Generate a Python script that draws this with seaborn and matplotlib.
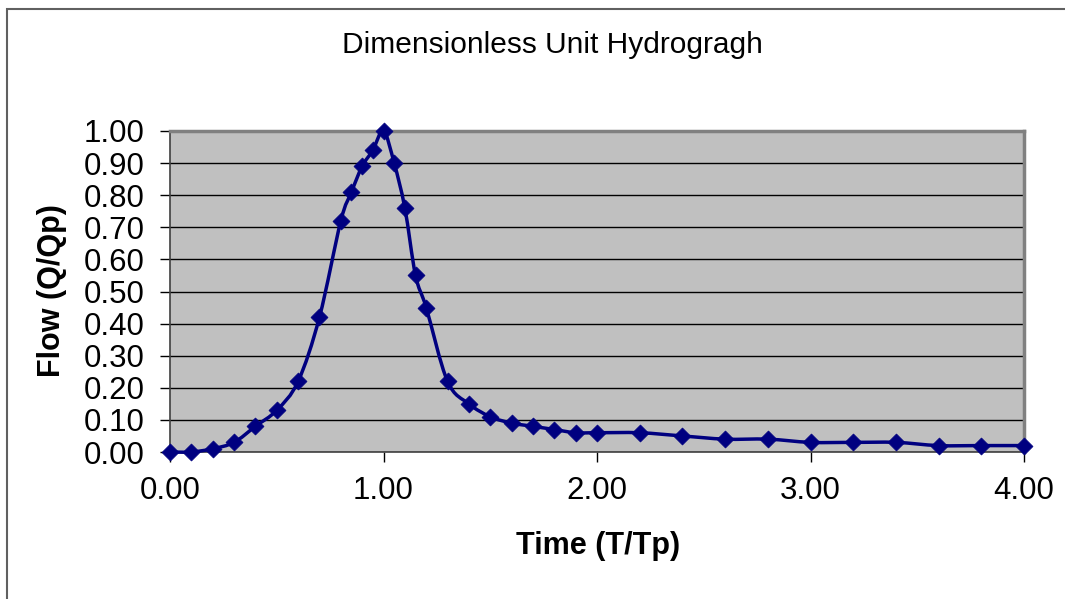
import numpy as np
import pandas as pd
import matplotlib
matplotlib.use("Agg")
import matplotlib.pyplot as plt
from matplotlib.path import Path
from matplotlib.patches import PathPatch, Rectangle
import seaborn as sns

# ---- data ----
time_ratio = [0.00, 0.10, 0.20, 0.30, 0.40, 0.50, 0.60, 0.70, 0.80, 0.85, 0.90, 0.95,
              1.00, 1.05, 1.10, 1.15, 1.20, 1.30, 1.40, 1.50, 1.60, 1.70, 1.80, 1.90,
              2.00, 2.20, 2.40, 2.60, 2.80, 3.00, 3.20, 3.40, 3.60, 3.80, 4.00]
flow_ratio = [0.00, 0.00, 0.01, 0.03, 0.08, 0.13, 0.22, 0.42, 0.72, 0.81, 0.89, 0.94,
              1.00, 0.90, 0.76, 0.55, 0.45, 0.22, 0.15, 0.11, 0.09, 0.08, 0.07, 0.06,
              0.06, 0.06, 0.05, 0.04, 0.04, 0.03, 0.03, 0.03, 0.02, 0.02, 0.02]
x_ticks = [0.0, 1.0, 2.0, 3.0, 4.0]
y_ticks = [0.0, 0.1, 0.2, 0.3, 0.4, 0.5, 0.6, 0.7, 0.8, 0.9, 1.0]
title = "Dimensionless Unit Hydrogragh"
x_label = "Time (T/Tp)"
y_label = "Flow (Q/Qp)"

df = pd.DataFrame({"t": time_ratio, "q": flow_ratio})

sns.set_theme(style="white")
plt.rcParams["font.family"] = ["Liberation Sans", "DejaVu Sans"]
plt.rcParams["text.color"] = "black"
plt.rcParams["axes.labelcolor"] = "black"
plt.rcParams["xtick.color"] = "black"
plt.rcParams["ytick.color"] = "black"

NAVY = "#000080"
fig = plt.figure(figsize=(10.65, 5.99), dpi=100)
ax = fig.add_axes([170 / 1065, 1 - 452 / 599, (1024 - 170) / 1065, (452 - 131) / 599])
ax.set_facecolor("#C0C0C0")

# smoothed line (Excel-like Bezier smoothing through the data points)
xs = np.asarray(df["t"], float)
ys = np.asarray(df["q"], float)
n = len(xs)
verts = [(xs[0], ys[0])]
codes = [Path.MOVETO]
for i in range(n - 1):
    p0 = np.array([xs[max(i - 1, 0)], ys[max(i - 1, 0)]])
    p1 = np.array([xs[i], ys[i]])
    p2 = np.array([xs[i + 1], ys[i + 1]])
    p3 = np.array([xs[min(i + 2, n - 1)], ys[min(i + 2, n - 1)]])
    c1 = p1 + (p2 - p0) / 6.0
    c2 = p2 - (p3 - p1) / 6.0
    verts += [tuple(c1), tuple(c2), tuple(p2)]
    codes += [Path.CURVE4] * 3
ax.add_patch(PathPatch(Path(verts, codes), facecolor="none", edgecolor=NAVY,
                       lw=2.5, zorder=3, clip_on=False))

sns.scatterplot(data=df, x="t", y="q", marker="D", s=75, color=NAVY,
                edgecolor=NAVY, linewidth=0.5, ax=ax, zorder=4, clip_on=False)

ax.set_xlim(0, 4)
ax.set_ylim(0, 1)
ax.set_xticks(x_ticks)
ax.set_yticks(y_ticks)
ax.set_xticklabels([f"{v:.2f}" for v in x_ticks])
ax.set_yticklabels([f"{v:.2f}" for v in y_ticks])
ax.yaxis.grid(True, color="black", lw=1.0)
ax.xaxis.grid(False)
ax.set_axisbelow(True)

ax.tick_params(axis="both", which="major", direction="out", length=7, width=1,
               color="black", labelcolor="black", labelsize=22.5, left=True, bottom=True)
ax.tick_params(axis="x", pad=10)
ax.tick_params(axis="y", pad=11)

for side in ["top", "right"]:
    ax.spines[side].set_color("#808080")
    ax.spines[side].set_linewidth(2.5)
for side in ["left", "bottom"]:
    ax.spines[side].set_color("#404040")
    ax.spines[side].set_linewidth(1.2)

ax.set_xlabel(x_label, fontsize=22, fontweight="bold", color="black")
ax.set_ylabel(y_label, fontsize=22, fontweight="bold", color="black")
ax.xaxis.label.set_va("center")
ax.yaxis.label.set_va("center")
ax.xaxis.set_label_coords((598 - 170) / 854, -(546 - 452) / 321)
ax.yaxis.set_label_coords((52 - 170) / 854, (452 - 291) / 321)

fig.text(552 / 1065, 1 - 45 / 599, title, ha="center", va="center",
         fontsize=21.5, color="black")

# chart area border
fig.add_artist(Rectangle((7 / 1065, -0.1), 1.2, 1 - 9 / 599 + 0.1,
                         transform=fig.transFigure, fill=False,
                         edgecolor="#606060", lw=1.5, clip_on=False))

fig.savefig("out.png", dpi=100, facecolor="white")
